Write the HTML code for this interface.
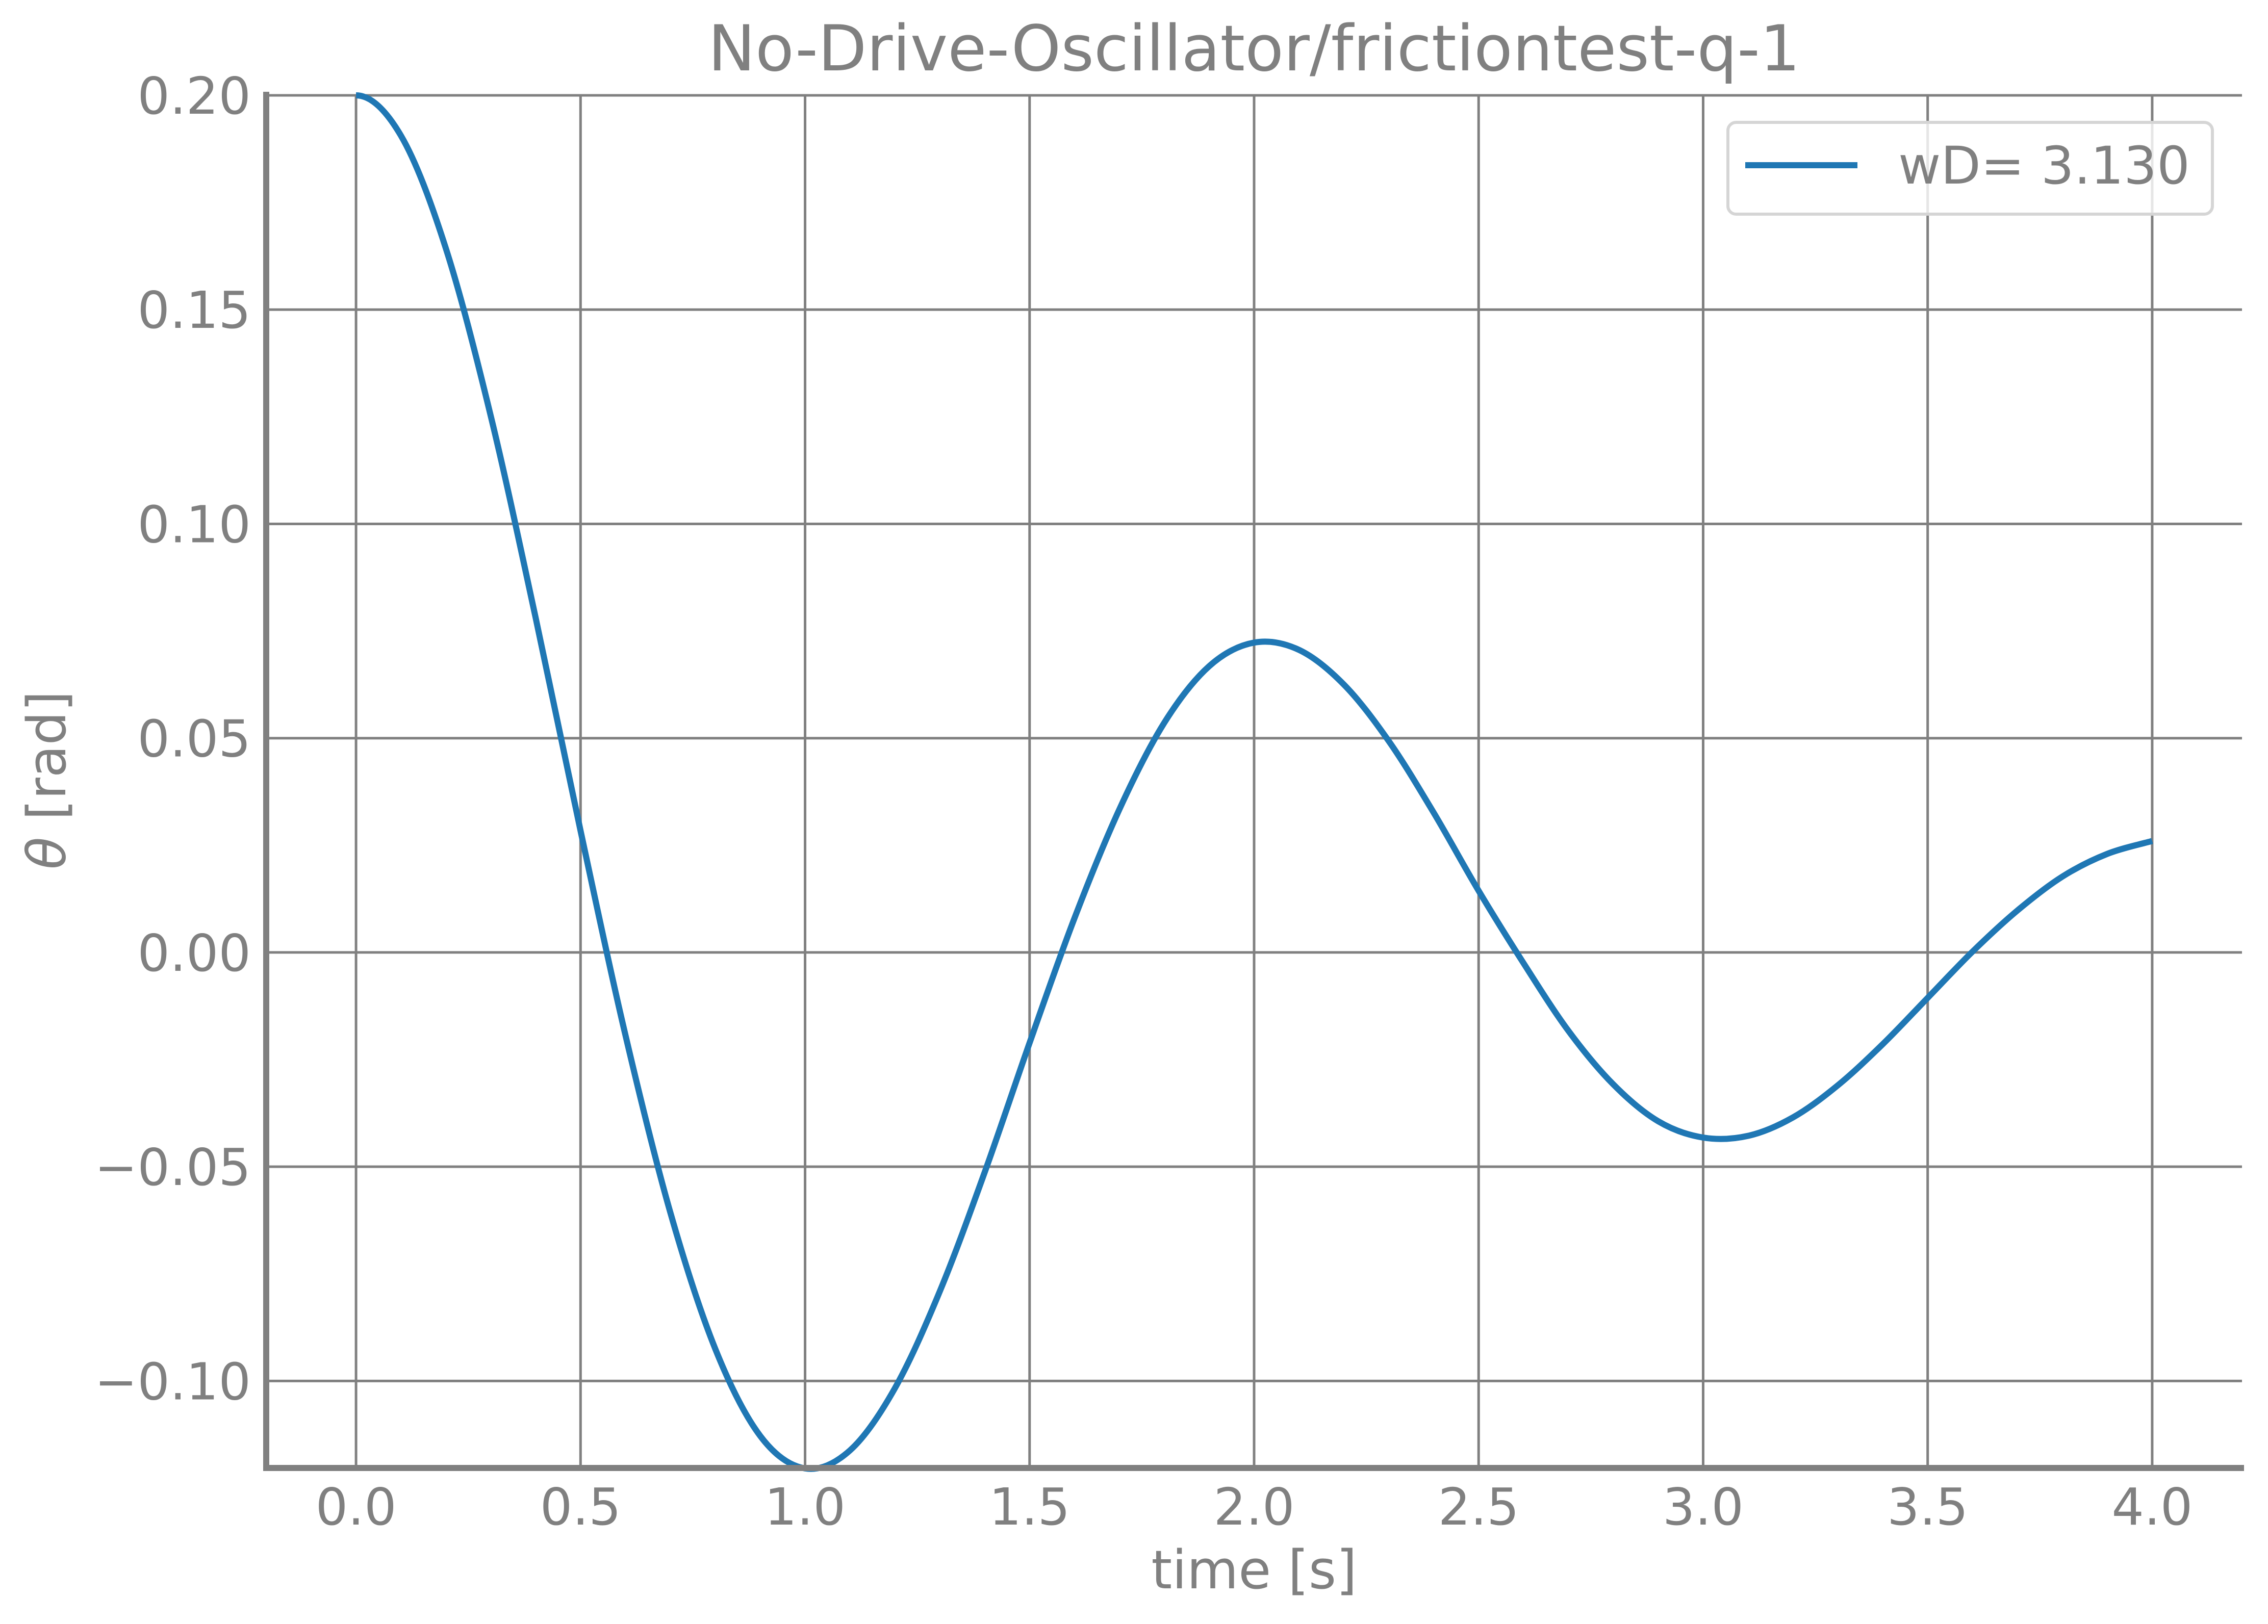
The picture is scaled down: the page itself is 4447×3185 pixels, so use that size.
<!DOCTYPE html>
<html><head><meta charset="utf-8"><style>
html,body{margin:0;padding:0;background:#fff;}
svg{display:block;font-family:"DejaVu Sans","Liberation Sans",sans-serif;}
</style></head><body>
<svg id="chart" width="4447" height="3185" viewBox="0 0 4447 3185">
<g id="grid"></g>
<g id="ticks"></g>
<path id="series" fill="none" stroke="#1f77b4" stroke-width="12" stroke-linejoin="round"/>
<line x1="522" y1="180" x2="522" y2="2885" stroke="#808080" stroke-width="12"/>
<line x1="516" y1="2879" x2="4400" y2="2879" stroke="#808080" stroke-width="12"/>
<text x="2459" y="138" font-size="124" fill="#808080" text-anchor="middle">No-Drive-Oscillator/frictiontest-q-1</text>
<text x="2459" y="3115" font-size="104" fill="#808080" text-anchor="middle">time [s]</text>
<text x="0" y="0" font-size="104" fill="#808080" text-anchor="middle" transform="translate(128,1530) rotate(-90)"><tspan font-style="italic">θ</tspan> [rad]</text>
<g>
<rect x="3388" y="240" width="950" height="180" rx="16" fill="#fff" fill-opacity="0.8" stroke="#d5d5d5" stroke-width="6"/>
<line x1="3422" y1="324" x2="3642" y2="324" stroke="#1f77b4" stroke-width="12"/>
<text x="3722" y="360" font-size="102" fill="#808080">wD= 3.130</text>
</g>
</svg>
<script>
const times=[0,0.1,0.2,0.3,0.4,0.5,0.6,0.7,0.8,0.9,1.0,1.1,1.2,1.3,1.4,1.5,1.6,1.7,1.8,1.9,2.0,2.1,2.2,2.3,2.4,2.5,2.6,2.7,2.8,2.9,3.0,3.1,3.2,3.3,3.4,3.5,3.6,3.7,3.8,3.9,4.0];
const theta=[0.2,0.1906,0.1643,0.1252,0.0781,0.0284,-0.0193,-0.0607,-0.0925,-0.1128,-0.1204,-0.1162,-0.1017,-0.0791,-0.0513,-0.0211,0.0080,0.0334,0.0536,0.0668,0.0723,0.0706,0.0625,0.0493,0.0326,0.0144,-0.0025,-0.0183,-0.0308,-0.0394,-0.0432,-0.0428,-0.0385,-0.0310,-0.0214,-0.0106,0.0002,0.0098,0.0177,0.0230,0.0260];
const xTicks=[0,0.5,1.0,1.5,2.0,2.5,3.0,3.5,4.0];
const xTickLabels=["0.0","0.5","1.0","1.5","2.0","2.5","3.0","3.5","4.0"];
const yTicks=[0.2,0.15,0.1,0.05,0,-0.05,-0.1];
const yTickLabels=["0.20","0.15","0.10","0.05","0.00","\u22120.05","\u22120.10"];
const NS="http://www.w3.org/2000/svg";
const X0=522,X1=4396,Y0=187,Y1=2879;
const xMin=-0.2,xMax=4.2,yMax=0.2,yMin=-0.1203;
function sx(v){return X0+(v-xMin)/(xMax-xMin)*(X1-X0);}
function sy(v){return Y0+(yMax-v)/(yMax-yMin)*(Y1-Y0);}
const grid=document.getElementById('grid'),tk=document.getElementById('ticks');
xTicks.forEach((v,i)=>{
 const l=document.createElementNS(NS,'line');
 
 
 l.setAttribute('x1',sx(v));l.setAttribute('x2',sx(v));l.setAttribute('y1',Y0);l.setAttribute('y2',Y1);
 l.setAttribute('stroke','#808080');l.setAttribute('stroke-width','5');grid.appendChild(l);
 const t=document.createElementNS(NS,'text');
 
 
 t.setAttribute('x',sx(v));t.setAttribute('y',2990);t.setAttribute('font-size','100');t.setAttribute('fill','#808080');t.setAttribute('text-anchor','middle');
 t.textContent=xTickLabels[i];tk.appendChild(t);
});
yTicks.forEach((v,i)=>{
 const l=document.createElementNS(NS,'line');
 
 
 l.setAttribute('x1',X0);l.setAttribute('x2',X1);l.setAttribute('y1',sy(v));l.setAttribute('y2',sy(v));
 l.setAttribute('stroke','#808080');l.setAttribute('stroke-width','5');grid.appendChild(l);
 const t=document.createElementNS(NS,'text');
 
 
 t.setAttribute('x',492);t.setAttribute('y',sy(v)+36);t.setAttribute('font-size','100');t.setAttribute('fill','#808080');t.setAttribute('text-anchor','end');
 t.textContent=yTickLabels[i];tk.appendChild(t);
});
const P=times.map((t,i)=>[sx(t),sy(theta[i])]);
let d='M'+P[0][0]+','+P[0][1];
for(let i=0;i<P.length-1;i++){
 const p1=P[i],p2=P[i+1];
 const p0=i===0?[2*p1[0]-p2[0],p2[1]]:P[i-1];
 const p3=P[Math.min(i+2,P.length-1)];
 const c1=[p1[0]+(p2[0]-p0[0])/6,p1[1]+(p2[1]-p0[1])/6];
 const c2=[p2[0]-(p3[0]-p1[0])/6,p2[1]-(p3[1]-p1[1])/6];
 d+=' C'+c1[0]+','+c1[1]+' '+c2[0]+','+c2[1]+' '+p2[0]+','+p2[1];
}
document.getElementById('series').setAttribute('d',d);
</script>
</body></html>
